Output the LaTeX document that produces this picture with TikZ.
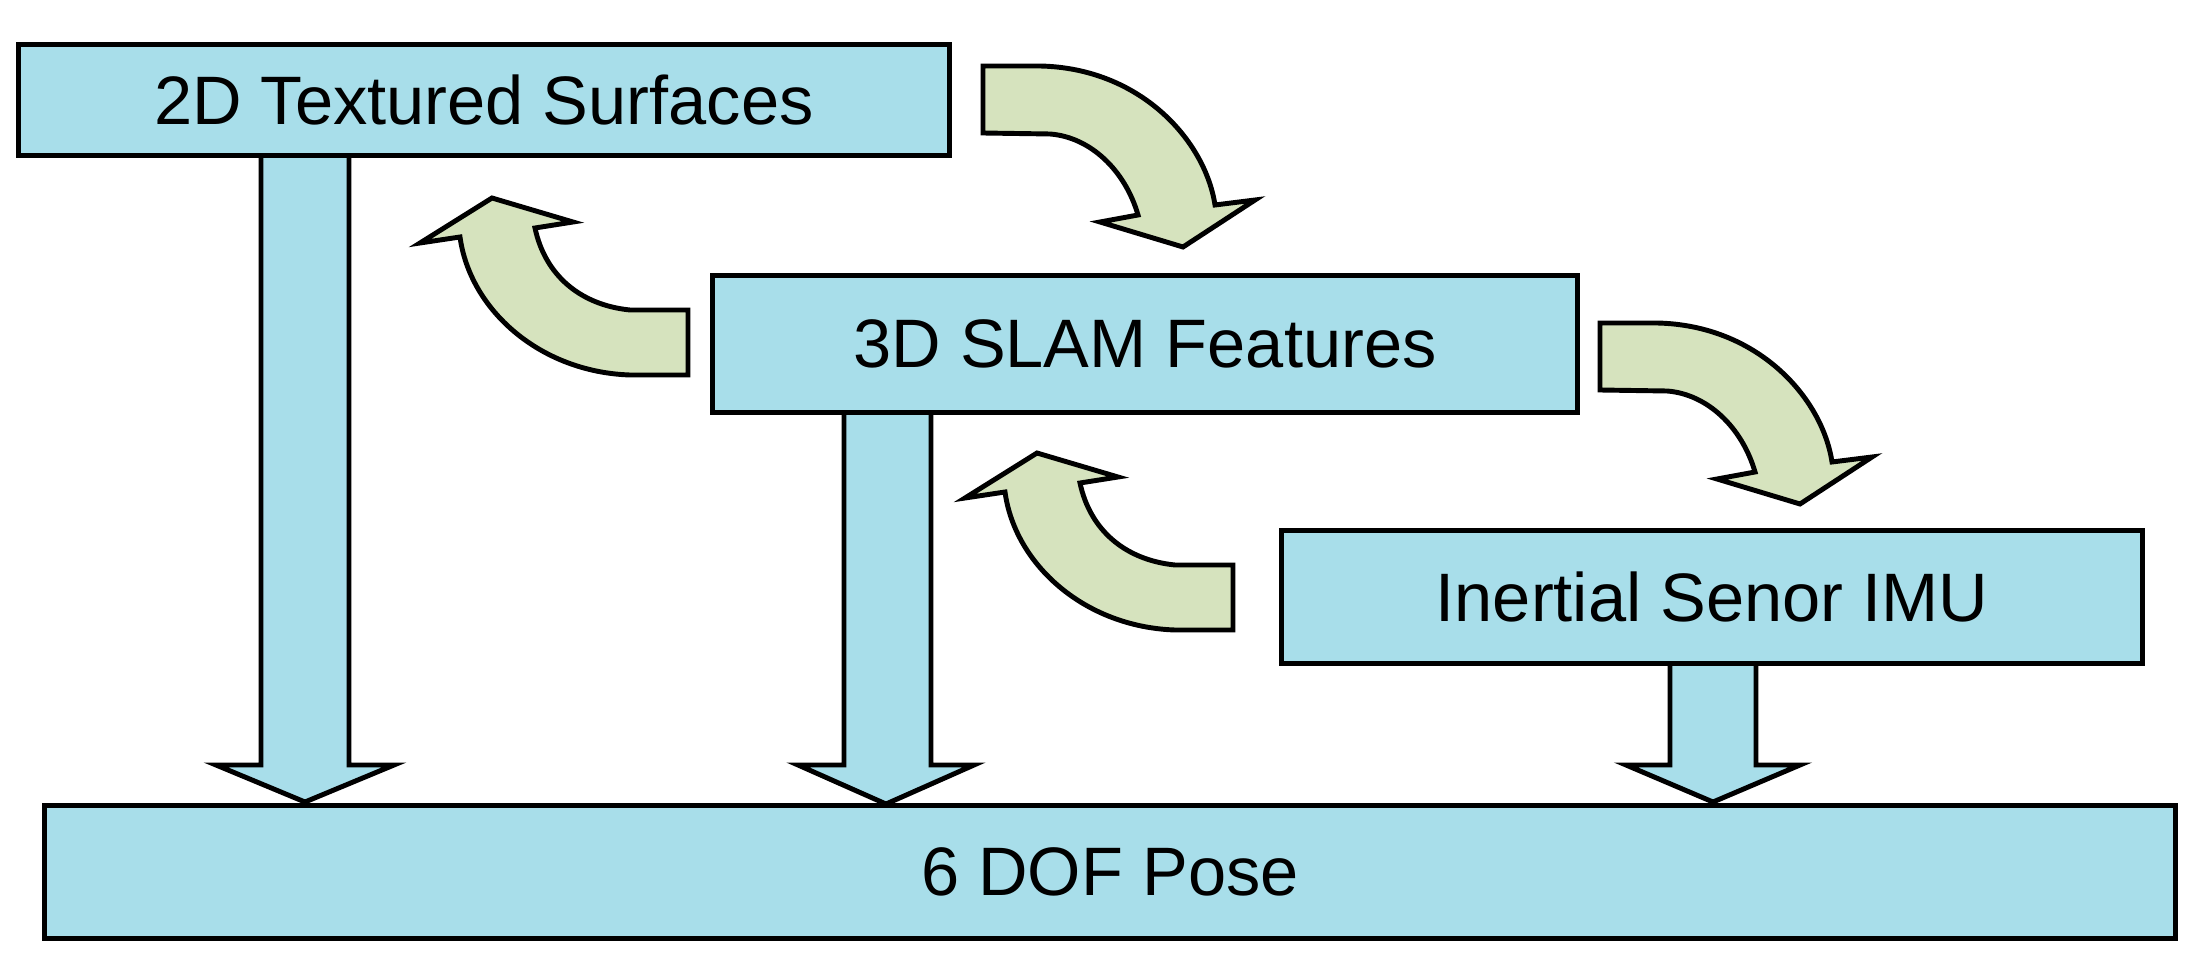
\documentclass[tikz,border=0pt]{standalone}
\usepackage{fontspec}
\setmainfont{Liberation Sans}
\begin{document}
\begin{tikzpicture}[x=0.01cm,y=-0.01cm,
  box/.style={draw=black,line width=1.4pt,fill=boxblue,inner sep=0pt,font=\fontsize{19.5}{22}\selectfont},
  blk/.style={draw=black,line width=1.4pt,fill=boxblue,line join=miter},
  grn/.style={draw=black,line width=1.4pt,fill=arrgreen,line join=miter}]
\definecolor{boxblue}{RGB}{168,222,234}
\definecolor{arrgreen}{RGB}{214,227,190}
\useasboundingbox (0,0) rectangle (2188,961);
% down block arrows
\draw[blk] (261,150) -- (261,765) -- (216,765) -- (305,802) -- (394,765) -- (349,765) -- (349,150);
\draw[blk] (844,405) -- (844,765) -- (798,765) -- (886,804) -- (974,765) -- (931,765) -- (931,405);
\draw[blk] (1670,655) -- (1670,765) -- (1626,765) -- (1713,802) -- (1800,765) -- (1756,765) -- (1756,655);
% boxes
\node[box,minimum width=9.30cm,minimum height=1.11cm] (a) at (484,100) {2D Textured Surfaces};
\node[box,minimum width=8.65cm,minimum height=1.37cm] (b) at (1145,344) {3D SLAM Features};
\node[box,minimum width=8.61cm,minimum height=1.33cm] (c) at (1712,597) {Inertial Senor IMU};
\node[box,minimum width=21.29cm,minimum height=1.33cm] (d) at (1110,872) {6 DOF Pose};
% curved arrows
\foreach \dx/\dy in {0/0,617/257}{
\draw[grn,shift={(\dx,\dy)}] (983,66) -- (1040,66) .. controls (1140,68) and (1205,140) .. (1215,205) -- (1255,200) -- (1183,247) -- (1100,222) -- (1138,215) .. controls (1125,170) and (1090,137) .. (1050,134) -- (983,133) -- cycle;}
\foreach \dx/\dy in {0/0,545/255}{
\draw[grn,shift={(\dx,\dy)}] (688,375) -- (630,375) .. controls (540,372) and (470,310) .. (460,237) -- (420,243) -- (492,198) -- (573,222) -- (535,228) .. controls (545,275) and (580,305) .. (630,310) -- (688,310) -- cycle;}
\end{tikzpicture}
\end{document}
